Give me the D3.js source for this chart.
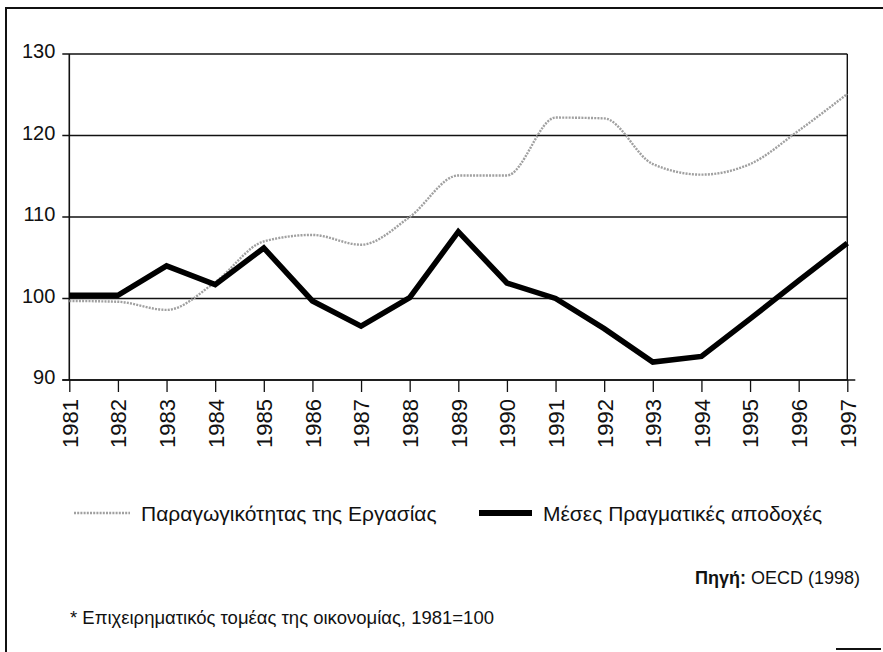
<!DOCTYPE html>
<html>
<head>
<meta charset="utf-8">
<script src="https://cdn.jsdelivr.net/npm/d3@7"></script>
<style>
  body { margin: 0; background: #fff; }
  svg text { font-family: "Liberation Sans", Arial, sans-serif; fill: #111; }
</style>
</head>
<body>
<div id="chart"></div>
<script>
const years = ["1981","1982","1983","1984","1985","1986","1987","1988","1989",
  "1990","1991","1992","1993","1994","1995","1996","1997"];
const productivity = [99.7, 99.6, 98.6, 102.0, 107.0, 107.8, 106.6, 110.0, 115.1,
  115.1, 122.2, 122.1, 116.5, 115.2, 116.5, 120.6, 125.1];
const wages = [100.4, 100.4, 104.0, 101.7, 106.2, 99.7, 96.6, 100.1, 108.2,
  101.9, 100.0, 96.3, 92.2, 92.9, 97.5, 102.2, 106.8];
const yTicks = [90, 100, 110, 120, 130];
const seriesNames = ["Παραγωγικότητας της Εργασίας", "Μέσες Πραγματικές αποδοχές"];

const width = 883, height = 652;
const margin = {top: 54, right: 35.7, bottom: 272, left: 69.3};

const svg = d3.select("#chart").append("svg")
    .attr("width", width)
    .attr("height", height);

// outer frame: top and left edges, small mark bottom right
svg.append("line").attr("x1", 5).attr("x2", 883).attr("y1", 8).attr("y2", 8)
    .attr("stroke", "#111").attr("stroke-width", 2);
svg.append("line").attr("x1", 6).attr("x2", 6).attr("y1", 7).attr("y2", 652)
    .attr("stroke", "#111").attr("stroke-width", 2);
svg.append("line").attr("x1", 836).attr("x2", 881).attr("y1", 649).attr("y2", 649)
    .attr("stroke", "#111").attr("stroke-width", 2);

const x = d3.scalePoint().domain(years).range([margin.left, width - margin.right]);
const y = d3.scaleLinear().domain([90, 130]).range([height - margin.bottom, margin.top]);

const g = svg.append("g");

// gridlines
g.selectAll(".grid").data(yTicks).enter().append("line")
    .attr("x1", margin.left - 7).attr("x2", width - margin.right)
    .attr("y1", d => y(d)).attr("y2", d => y(d))
    .attr("stroke", "#111").attr("stroke-width", 1.6);

// plot frame sides
g.append("line").attr("x1", margin.left).attr("x2", margin.left)
    .attr("y1", y(130)).attr("y2", y(90)).attr("stroke", "#111").attr("stroke-width", 1.6);
g.append("line").attr("x1", width - margin.right).attr("x2", width - margin.right)
    .attr("y1", y(130)).attr("y2", y(90)).attr("stroke", "#111").attr("stroke-width", 1.4);

// y labels
g.selectAll(".ylab").data(yTicks).enter().append("text")
    .attr("x", margin.left - 14).attr("y", d => y(d) + 4)
    .attr("text-anchor", "end").attr("font-size", 20)
    .text(d => d);

// x axis
const xAxis = g.append("g")
    .attr("transform", `translate(0,${y(90)})`)
    .call(d3.axisBottom(x).tickSize(12).tickSizeOuter(0));
xAxis.select(".domain").attr("stroke", "#111").attr("stroke-width", 1.6)
    .attr("d", `M${margin.left - 7},0H${width - margin.right + 8}`);
xAxis.selectAll(".tick line").attr("stroke", "#111").attr("stroke-width", 1.3);
xAxis.selectAll(".tick text")
    .attr("font-size", 22)
    .attr("font-family", "Liberation Sans, Arial, sans-serif")
    .attr("fill", "#111")
    .attr("text-anchor", "end")
    .attr("transform", "rotate(-90)")
    .attr("x", -19).attr("y", 0).attr("dy", "0.36em");

// series
const lineSmooth = d3.line()
    .x((d, i) => x(years[i])).y(d => y(d))
    .curve(d3.curveMonotoneX);
const lineStraight = d3.line()
    .x((d, i) => x(years[i])).y(d => y(d));

g.append("path").datum(productivity)
    .attr("d", lineSmooth)
    .attr("fill", "none")
    .attr("stroke", "#a0a0a0")
    .attr("stroke-width", 2.4)
    .attr("stroke-dasharray", "2,1.2");

g.append("path").datum(wages)
    .attr("d", lineStraight)
    .attr("fill", "none")
    .attr("stroke", "#000")
    .attr("stroke-width", 5.5)
    .attr("stroke-linejoin", "miter");

// legend
const legY = 513;
const leg = svg.append("g");
leg.append("line").attr("x1", 74).attr("x2", 130).attr("y1", legY).attr("y2", legY)
    .attr("stroke", "#a0a0a0").attr("stroke-width", 2.4).attr("stroke-dasharray", "2,1.2");
leg.append("text").attr("x", 141).attr("y", legY + 8).attr("font-size", 21).text(seriesNames[0]);
leg.append("line").attr("x1", 479).attr("x2", 532).attr("y1", legY).attr("y2", legY)
    .attr("stroke", "#000").attr("stroke-width", 6);
leg.append("text").attr("x", 543).attr("y", legY + 8).attr("font-size", 21).text(seriesNames[1]);

// source and note
const src = svg.append("text").attr("x", 860).attr("y", 584)
    .attr("text-anchor", "end").attr("font-size", 18);
src.append("tspan").attr("font-weight", "bold").text("Πηγή:");
src.append("tspan").text(" OECD (1998)");

svg.append("text").attr("x", 70).attr("y", 624).attr("font-size", 18.5)
    .text("* Επιχειρηματικός τομέας της οικονομίας, 1981=100");
</script>
</body>
</html>
